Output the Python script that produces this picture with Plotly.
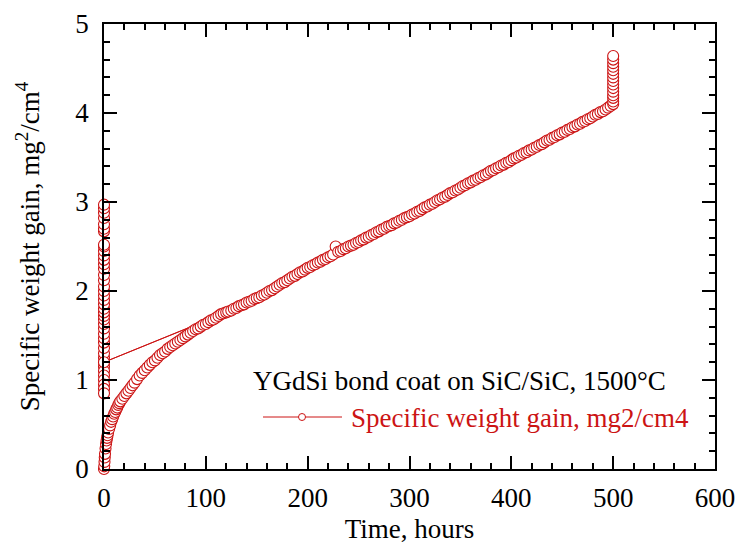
import plotly.graph_objects as go

# ---- data ----
# early growth (hours, mg^2/cm^4)
early_t = [0, 0.25, 0.5, 0.75, 1, 1.5, 2, 2.5, 3, 3.5, 4, 5, 6, 7, 8, 9, 10, 11, 12, 13, 14, 15, 16, 18, 20,
           22, 24, 26, 28, 30, 32.5, 35, 37.5, 40, 42.5, 45, 47.5, 50, 52.5, 55, 57.5, 60, 62.5, 65, 67.5, 70,
           72.5, 75, 77.5, 80, 82.5, 85, 87.5, 90, 92.5, 95, 97.5, 100, 102.5, 105, 107.5, 110, 112.5, 115,
           117.5, 120, 122]
early_w = [0.00, 0.03, 0.08, 0.13, 0.17, 0.23, 0.28, 0.32, 0.35, 0.38, 0.41, 0.45, 0.49, 0.53, 0.56, 0.59,
           0.62, 0.64, 0.67, 0.69, 0.72, 0.74, 0.76, 0.79, 0.82, 0.85, 0.88, 0.91, 0.94, 0.97, 1.01, 1.05, 1.08,
           1.11, 1.14, 1.17, 1.20, 1.22, 1.25, 1.28, 1.30, 1.32, 1.35, 1.37, 1.39, 1.41, 1.43, 1.45, 1.47, 1.49,
           1.51, 1.53, 1.55, 1.57, 1.58, 1.60, 1.62, 1.63, 1.65, 1.67, 1.68, 1.70, 1.72, 1.74, 1.75, 1.76, 1.77]
# readings logged at time zero
zero_w = [1.20, 1.15, 1.10, 1.05, 1.00, 0.95, 0.90, 0.85, 1.25, 1.30, 1.36, 1.42, 1.47, 1.52, 1.58, 1.63, 1.68,
          1.72, 1.76, 1.80, 1.85, 1.90, 1.95, 2.00, 2.05, 2.12, 2.18, 2.25, 2.30, 2.35, 2.40, 2.45, 2.50, 2.52,
          2.67, 2.70, 2.75, 2.82, 2.88, 2.93, 2.97, 1.20]
zero_t = [0] * len(zero_w)
# later growth
late_t = [125, 127.5, 130, 132.5, 135, 137.5, 140, 142.5, 145, 147.5, 150, 152.5, 155, 157.5, 160, 162.5, 165,
          167.5, 170, 172.5, 175, 177.5, 180, 182.5, 185, 187.5, 190, 192.5, 195, 197.5, 200, 202.5, 205, 207.5,
          210, 212.5, 215, 217.5, 220, 222.5, 225, 227.5, 230, 232.5, 235, 237.5, 240, 242.5, 245, 247.5, 250,
          252.5, 255, 257.5, 260, 262.5, 265, 267.5, 270, 272.5, 275, 277.5, 280, 282.5, 285, 287.5, 290, 292.5,
          295, 297.5, 300, 302.5, 305, 307.5, 310, 312.5, 315, 317.5, 320, 322.5, 325, 327.5, 330, 332.5, 335,
          337.5, 340, 342.5, 345, 347.5, 350, 352.5, 355, 357.5, 360, 362.5, 365, 367.5, 370, 372.5, 375, 377.5,
          380, 382.5, 385, 387.5, 390, 392.5, 395, 397.5, 400, 402.5, 405, 407.5, 410, 412.5, 415, 417.5, 420,
          422.5, 425, 427.5, 430, 432.5, 435, 437.5, 440, 442.5, 445, 447.5, 450, 452.5, 455, 457.5, 460, 462.5,
          465, 467.5, 470, 472.5, 475, 477.5, 480, 482.5, 485, 487.5, 490, 492.5, 495, 497.5]
late_w = [1.78, 1.80, 1.81, 1.83, 1.84, 1.85, 1.87, 1.88, 1.89, 1.91, 1.92, 1.93, 1.95, 1.96, 1.98, 2.00, 2.01,
          2.03, 2.05, 2.07, 2.09, 2.10, 2.12, 2.14, 2.16, 2.17, 2.19, 2.21, 2.22, 2.24, 2.26, 2.27, 2.29, 2.30,
          2.32, 2.33, 2.35, 2.36, 2.38, 2.39, 2.41, 2.50, 2.44, 2.45, 2.47, 2.48, 2.50, 2.51, 2.52, 2.54, 2.55,
          2.57, 2.58, 2.60, 2.61, 2.63, 2.64, 2.66, 2.67, 2.69, 2.70, 2.72, 2.73, 2.74, 2.76, 2.77, 2.79, 2.80,
          2.82, 2.83, 2.84, 2.86, 2.87, 2.89, 2.90, 2.92, 2.94, 2.95, 2.97, 2.98, 3.00, 3.02, 3.03, 3.05, 3.06,
          3.08, 3.10, 3.11, 3.13, 3.14, 3.16, 3.18, 3.19, 3.21, 3.22, 3.24, 3.25, 3.27, 3.28, 3.30, 3.31, 3.33,
          3.35, 3.36, 3.38, 3.39, 3.41, 3.42, 3.44, 3.45, 3.47, 3.49, 3.50, 3.52, 3.53, 3.55, 3.56, 3.58, 3.59,
          3.61, 3.62, 3.64, 3.65, 3.67, 3.69, 3.70, 3.72, 3.73, 3.75, 3.76, 3.78, 3.79, 3.81, 3.82, 3.84, 3.85,
          3.87, 3.88, 3.90, 3.91, 3.93, 3.94, 3.96, 3.98, 3.99, 4.01, 4.02, 4.04, 4.06, 4.08]
# readings logged at 500 h
end_w = [4.10, 4.13, 4.17, 4.20, 4.24, 4.28, 4.32, 4.36, 4.40, 4.44, 4.48, 4.52, 4.56, 4.60, 4.64]
end_t = [500] * len(end_w)

x_all = early_t + zero_t + late_t + end_t
y_all = early_w + zero_w + late_w + end_w

RED = "#cc1414"
FONT = "Liberation Serif"
FS = 27

fig = go.Figure()
fig.add_trace(go.Scatter(
    x=x_all, y=y_all, mode="lines+markers",
    line=dict(color=RED, width=1),
    marker=dict(symbol="circle", size=11, color="white", line=dict(color=RED, width=1.1)),
    cliponaxis=False, showlegend=False,
    name="Specific weight gain, mg2/cm4"))

axis_common = dict(showline=True, linecolor="black", linewidth=1.5, mirror="allticks",
                   ticks="inside", ticklen=13, tickwidth=1.5, tickcolor="black",
                   showgrid=False, zeroline=False, automargin=False,
                   tickfont=dict(family=FONT, size=FS, color="black"))

fig.update_xaxes(range=[0, 600], dtick=100, tick0=0, ticklabelstandoff=4,
                 minor=dict(dtick=20, ticks="inside", ticklen=6, tickwidth=1.5, tickcolor="black"),
                 title=dict(text="Time, hours", font=dict(family=FONT, size=FS, color="black"), standoff=19),
                 **axis_common)
fig.update_yaxes(range=[0, 5], dtick=1, tick0=0, ticklabelstandoff=8,
                 minor=dict(dtick=0.2, ticks="inside", ticklen=6, tickwidth=1.5, tickcolor="black"),
                 title=dict(text="Specific weight gain, mg<sup>2</sup>/cm<sup>4</sup>",
                            font=dict(family=FONT, size=FS, color="black"), standoff=28),
                 **axis_common)

# legend drawn in paper space
W0, W1, H0, H1 = 104, 715, 469, 24
def px(xp):
    return (xp - W0) / (W1 - W0)
def py(yp):
    return (H0 - yp) / (H0 - H1)

fig.add_annotation(x=px(251), y=py(381), xref="paper", yref="paper", xanchor="left", yanchor="middle",
                   text="YGdSi bond coat on SiC/SiC, 1500°C", showarrow=False,
                   font=dict(family=FONT, size=FS, color="black"))
fig.add_annotation(x=px(349), y=py(418), xref="paper", yref="paper", xanchor="left", yanchor="middle",
                   text="Specific weight gain, mg2/cm4", showarrow=False,
                   font=dict(family=FONT, size=FS, color=RED))
fig.add_shape(type="line", xref="paper", yref="paper", x0=px(263), x1=px(342), y0=py(417), y1=py(417),
              line=dict(color=RED, width=1))
fig.add_shape(type="circle", xref="paper", yref="paper", x0=px(298.5), x1=px(305.5), y0=py(420.5), y1=py(413.5),
              line=dict(color=RED, width=1), fillcolor="white")

fig.update_layout(width=739, height=544, margin=dict(l=104, r=24, t=24, b=75),
                  plot_bgcolor="white", paper_bgcolor="white",
                  font=dict(family=FONT, size=FS, color="black"))

fig.write_html("out.html")
